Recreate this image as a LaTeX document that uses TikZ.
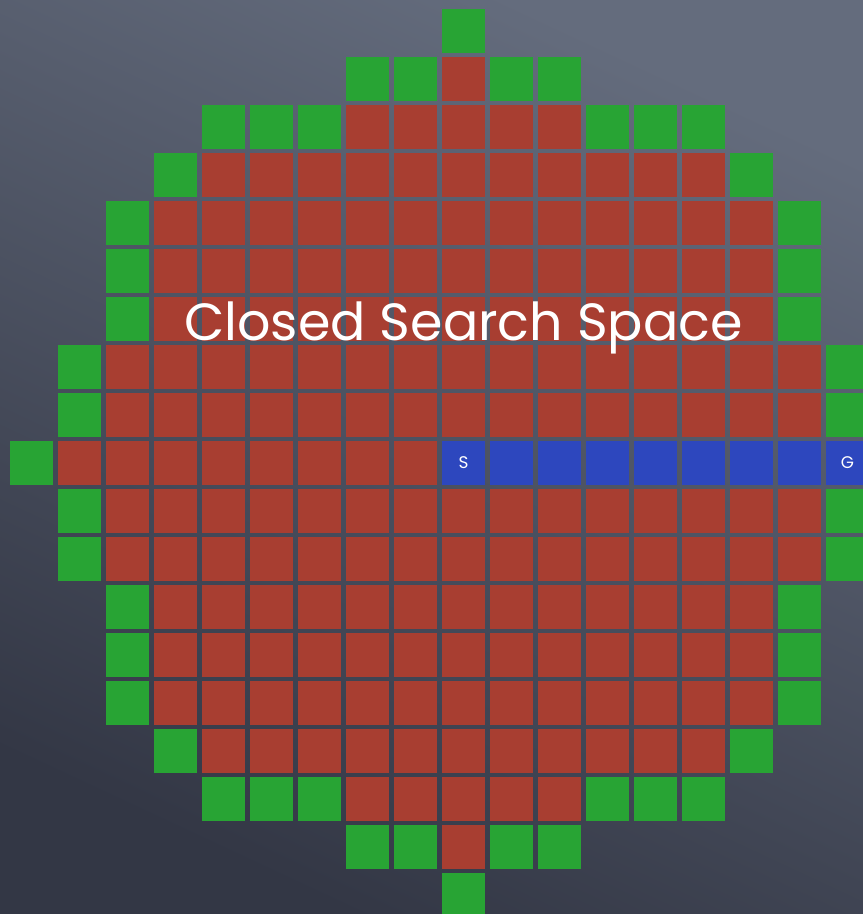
\documentclass[tikz,border=0pt]{standalone}
\usepackage{fontspec}
\newfontfamily\chalkfont{Poppins}
\definecolor{slatetop}{HTML}{646C7D}
\definecolor{slatebot}{HTML}{333745}
\definecolor{closedred}{HTML}{A83E31}
\definecolor{opengreen}{HTML}{28A434}
\definecolor{pathblue}{HTML}{2D47BE}

\begin{document}
\begin{tikzpicture}[
  cell/.style={minimum size=0.896cm, inner sep=0pt, outer sep=0pt},
  closed/.style={cell, fill=closedred},
  open/.style={cell, fill=opengreen},
  route/.style={cell, fill=pathblue, text=white, font=\chalkfont\normalsize},
  title/.style={text=white, font=\chalkfont\fontsize{31}{38}\selectfont, anchor=base}
]
% slate board
\useasboundingbox (-0.656,0.646) rectangle (17.323,-18.396);
\shade[top color=slatetop, bottom color=slatebot, shading angle=-25]
  (-0.656,0.646) rectangle (17.323,-18.396);

% closed cells, row by row
\foreach \r/\a/\b in {1/9/9, 2/7/11, 3/4/14, 4/3/15, 5/3/15, 6/3/15, 7/2/16, 8/2/16, 9/1/8,
    10/2/16, 11/2/16, 12/3/15, 13/3/15, 14/3/15, 15/4/14, 16/7/11, 17/9/9}
  \foreach \c in {\a,...,\b}
    \node[closed] (red-\c-\r) at (\c,-\r) {};

% open cells on the border
\foreach \c/\r in {9/0, 7/1, 8/1, 10/1, 11/1, 4/2, 5/2, 6/2, 12/2, 13/2, 14/2, 3/3, 15/3,
    2/4, 16/4, 2/5, 16/5, 2/6, 16/6, 1/7, 17/7, 1/8, 17/8, 0/9, 1/10, 17/10, 1/11, 17/11,
    2/12, 16/12, 2/13, 16/13, 2/14, 16/14, 3/15, 15/15,
    4/16, 5/16, 6/16, 12/16, 13/16, 14/16, 7/17, 8/17, 10/17, 11/17, 9/18}
  \node[open] (green-\c-\r) at (\c,-\r) {};

% path from start to goal
\node[route] (S) at (9,-9) {S};
\foreach \c in {10,...,16}
  \node[route] (path-\c) at (\c,-9) {};
\node[route] (G) at (17,-9) {G};

\node[title] (caption) at (9,-6.44) {Closed Search Space};
\end{tikzpicture}
\end{document}
